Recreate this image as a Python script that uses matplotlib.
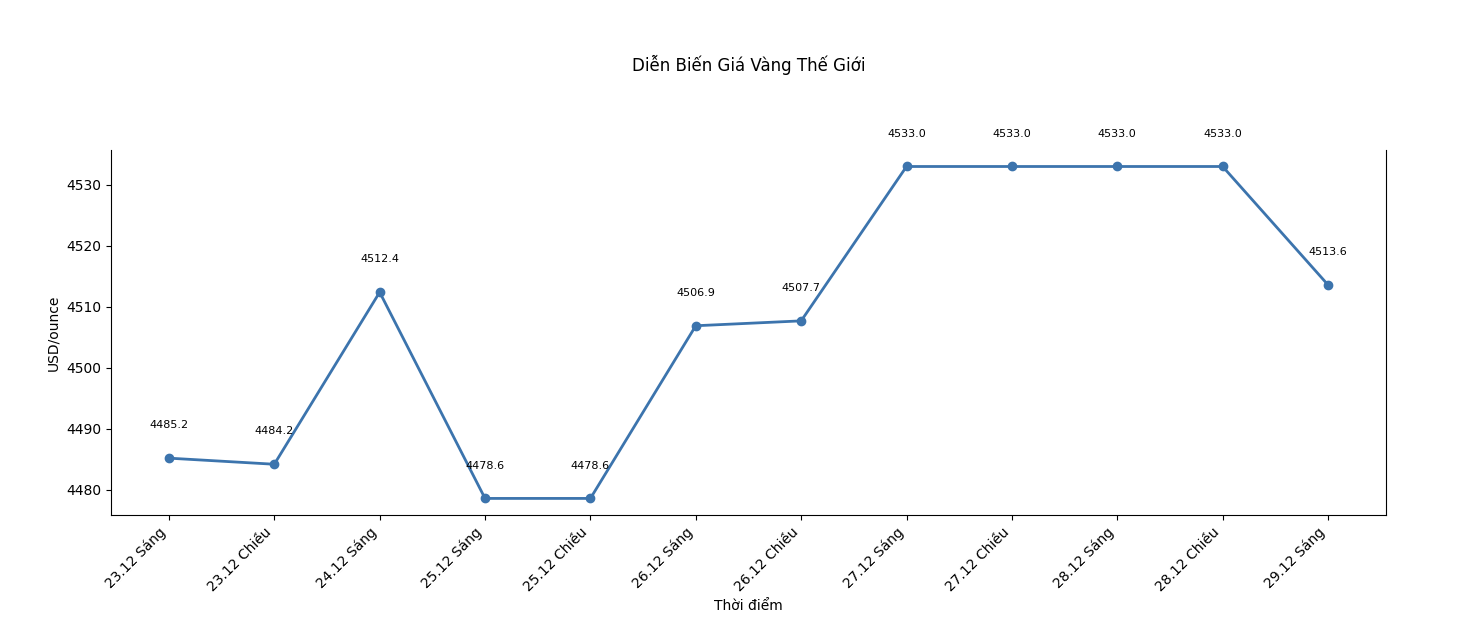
import matplotlib
matplotlib.use("Agg")
import matplotlib.pyplot as plt

# Data
labels = ["23.12 Sáng", "23.12 Chiều", "24.12 Sáng", "25.12 Sáng", "25.12 Chiều",
          "26.12 Sáng", "26.12 Chiều", "27.12 Sáng", "27.12 Chiều", "28.12 Sáng",
          "28.12 Chiều", "29.12 Sáng"]
prices = [4485.2, 4484.2, 4512.4, 4478.6, 4478.6, 4506.9, 4507.7,
          4533.0, 4533.0, 4533.0, 4533.0, 4513.6]

fig = plt.figure(figsize=(14.64, 6.22), dpi=100)
ax = fig.add_axes([0.0758, 0.172, 0.8709, 0.587])

x = list(range(len(labels)))
ax.plot(x, prices, marker="o", color="#3c74ad", linewidth=2, markersize=6)

for xi, p in zip(x, prices):
    ax.annotate(f"{p:.1f}", (xi, p), xytext=(0, 20), textcoords="offset points",
                ha="center", va="bottom", fontsize=8)

ax.set_xticks(x)
ax.set_xticklabels(labels, rotation=45, ha="right")
ax.set_xlabel("Thời điểm")
ax.set_ylabel("USD/ounce")
ax.spines["top"].set_visible(False)

ax.set_title("Diễn Biến Giá Vàng Thế Giới", pad=57, fontsize=12)

fig.savefig("out.png", dpi=100)
